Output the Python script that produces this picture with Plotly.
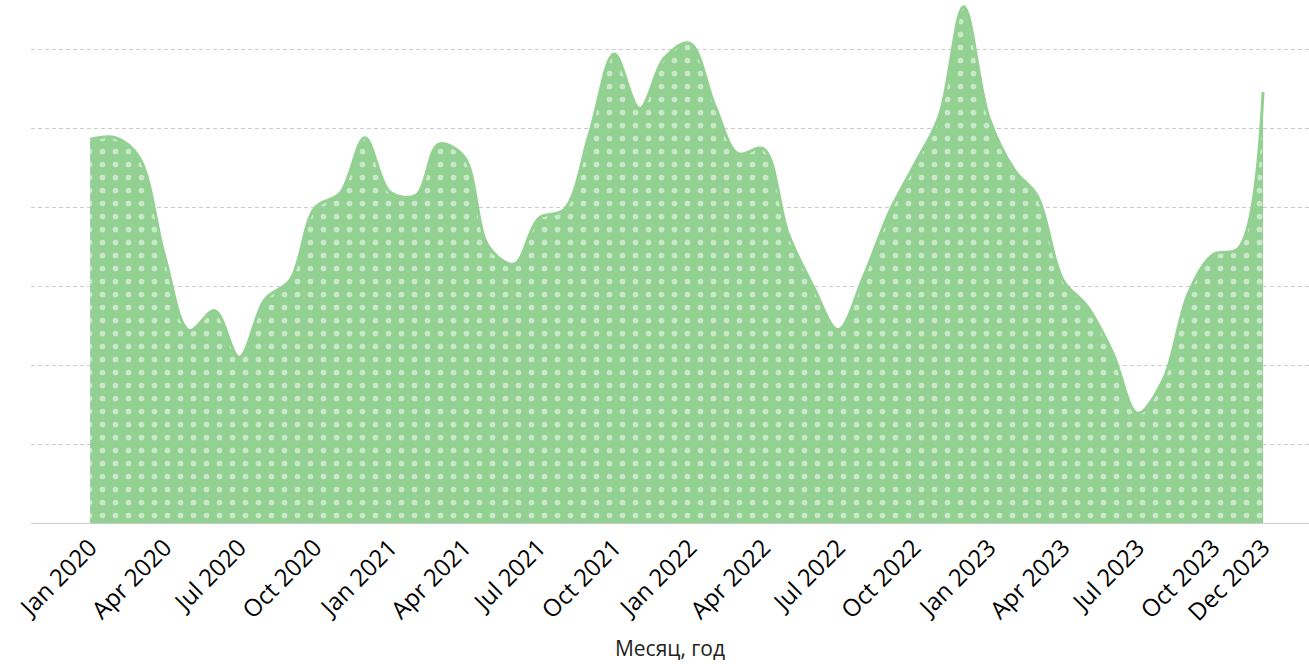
import plotly.graph_objects as go
import pandas as pd

months = pd.date_range("2020-01-01", "2023-12-01", freq="MS")
values = [48.6, 48.8, 46.3, 33.8, 24.4, 26.9, 21.0, 28.3, 30.8, 39.9, 41.8, 48.8,
          41.9, 41.5, 48.0, 46.4, 35.0, 32.8, 38.6, 39.7, 49.4, 59.4, 52.5, 58.9,
          60.8, 52.8, 46.8, 47.4, 36.7, 29.9, 24.5, 31.2, 39.3, 45.2, 51.5, 65.4,
          51.3, 44.7, 41.4, 30.8, 27.4, 21.5, 13.9, 18.1, 29.1, 34.0, 34.8, 54.6]

tick_vals = ["2020-01-01", "2020-04-01", "2020-07-01", "2020-10-01",
             "2021-01-01", "2021-04-01", "2021-07-01", "2021-10-01",
             "2022-01-01", "2022-04-01", "2022-07-01", "2022-10-01",
             "2023-01-01", "2023-04-01", "2023-07-01", "2023-10-01", "2023-12-01"]
tick_text = ["Jan 2020", "Apr 2020", "Jul 2020", "Oct 2020",
             "Jan 2021", "Apr 2021", "Jul 2021", "Oct 2021",
             "Jan 2022", "Apr 2022", "Jul 2022", "Oct 2022",
             "Jan 2023", "Apr 2023", "Jul 2023", "Oct 2023", "Dec 2023"]

GREEN = "#93d193"

fig = go.Figure()
fig.add_trace(go.Scatter(
    x=months, y=values, mode="lines",
    line=dict(color=GREEN, width=3, shape="spline", smoothing=1),
    fill="tozeroy", fillcolor=GREEN,
    fillpattern=dict(shape=".", bgcolor=GREEN, fgcolor="white",
                     size=13, solidity=0.15, fillmode="overlay"),
    hoverinfo="x+y", showlegend=False,
))

fig.update_layout(
    width=1309, height=664,
    margin=dict(l=31, r=0, t=2, b=141),
    paper_bgcolor="white", plot_bgcolor="white",
    font=dict(family="Open Sans, Noto Sans, sans-serif", color="black"),
    xaxis=dict(
        type="date",
        range=["2019-10-21", "2024-01-26"],
        tickmode="array", tickvals=tick_vals, ticktext=tick_text,
        tickangle=-45, tickfont=dict(size=24, color="black"),
        showgrid=False, zeroline=False,
        showline=True, linecolor="#cccccc", linewidth=1,
        ticks="",
        title=dict(text="Месяц, год", font=dict(size=21, color="#222222"), standoff=14),
    ),
    yaxis=dict(
        range=[0, 66], dtick=10, tick0=0,
        showticklabels=False, zeroline=False, showline=False,
        showgrid=True, gridcolor="#cccccc", gridwidth=1, griddash="4px,3px",
    ),
)

fig.write_html("out.html")
